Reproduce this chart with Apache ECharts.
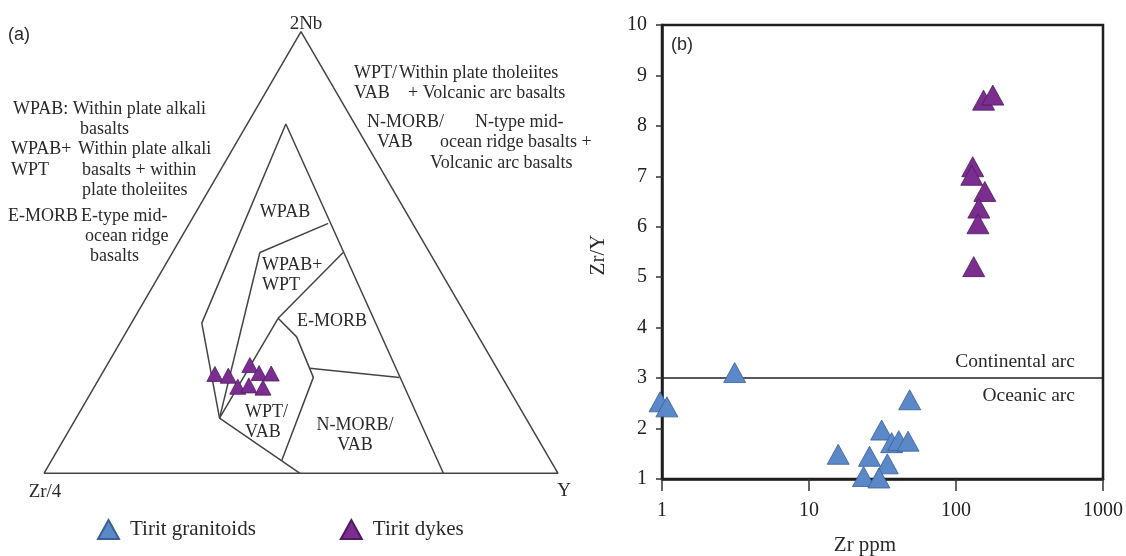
<!DOCTYPE html>
<html>
<head>
<meta charset="utf-8">
<title>Tirit granitoids and dykes</title>
<script src="https://cdn.jsdelivr.net/npm/echarts@6/dist/echarts.min.js"></script>
<style>
    html, body { margin: 0; padding: 0; background: #fff; }
    #main { width: 1126px; height: 556px; }
</style>
</head>
<body>
<div id="main"></div>
<script>
    // (a) Zr/4 - 2Nb - Y ternary, every point is [Zr/4, 2Nb, Y] in %
    var outerTriangle = [[100, 0, 0], [0, 100, 0], [0, 0, 100], [100, 0, 0]];
    var fieldOutline = [[50.2, 0, 49.8], [59.6, 12.5, 27.9], [52.3, 34.0, 13.7], [13.4, 79.1, 7.5], [22.3, 0, 77.7]];
    var wpabBase = [[33.0, 50.0, 17.0], [16.4, 56.6, 27.0]];
    var wpabWptLeft = [[33.0, 50.0, 17.0], [59.6, 12.5, 27.9]];
    var emorbTop = [[16.8, 50.0, 33.2], [36.9, 35.1, 28.0]];
    var wptVabLeft = [[36.9, 35.1, 28.0], [59.6, 12.5, 27.9]];
    var emorbLeft = [[36.9, 35.1, 28.0], [35.4, 30.9, 33.7], [36.7, 21.7, 41.5], [52.3, 2.9, 44.8]];
    var nmorbTop = [[36.4, 23.8, 39.8], [20.0, 21.7, 58.3]];

    var dykeZr4 = [55.5, 53.1, 47.7, 46.8, 44.5, 52.5, 50.2, 47.7];
    var dykeNb2 = [22.5, 22.1, 24.5, 22.7, 22.6, 19.6, 19.9, 19.4];
    var dykeY = [22.0, 24.8, 27.8, 30.5, 32.9, 27.9, 29.9, 32.9];

    // (b) Zr ppm vs Zr/Y
    var graniteZr = [3.12, 0.97, 1.08, 48.4, 31.2, 36.5, 40.8, 47.2, 15.8, 25.8, 34.1, 23.5, 29.9];
    var graniteZrY = [3.11, 2.53, 2.43, 2.57, 1.97, 1.72, 1.76, 1.75, 1.49, 1.45, 1.30, 1.05, 1.02];
    var dykeZr = [154, 178, 130, 128, 157, 143, 141, 132];
    var dykeZrY = [8.51, 8.61, 7.19, 7.02, 6.70, 6.37, 6.06, 5.21];
    var zrRange = [1, 1000];
    var zrYRange = [1, 10];
    var arcBoundary = 3;

    var serif = '"Liberation Serif", "Times New Roman", serif';
    var sans = '"Liberation Sans", Arial, sans-serif';
    var blue = '#5b88c8', blueEdge = '#3b5f96';
    var purple = '#7b2e90', purpleEdge = '#4f1a60';

    // ternary -> x,y in the unit box of grid 0
    function tern(p) {
        var s = p[0] + p[1] + p[2];
        var b = p[1] / s, c = p[2] / s;
        return [c + b / 2, b];
    }

    function txt(str, x, y, size, align, family) {
        return {
            type: 'text', x: x, y: y, silent: true,
            style: {
                text: str, fill: '#2a2a2a',
                font: (size || 18) + 'px ' + (family || serif),
                textAlign: align || 'left', align: align || 'left',
                textVerticalAlign: 'middle', verticalAlign: 'middle'
            }
        };
    }

    var series = [];
    [outerTriangle, fieldOutline, wpabBase, wpabWptLeft, emorbTop, wptVabLeft, emorbLeft, nmorbTop].forEach(function (line) {
        series.push({
            type: 'line', xAxisIndex: 0, yAxisIndex: 0,
            data: line.map(tern), symbol: 'none', silent: true,
            lineStyle: { color: '#444', width: 1.5 }
        });
    });

    series.push({
        name: 'Tirit dykes', type: 'scatter', xAxisIndex: 0, yAxisIndex: 0,
        symbol: 'triangle', symbolSize: [16, 15],
        itemStyle: { color: purple, borderColor: purpleEdge, borderWidth: 0.8, opacity: 1 },
        data: dykeZr4.map(function (v, i) { return tern([v, dykeNb2[i], dykeY[i]]); }),
        z: 5
    });

    series.push({
        name: 'Tirit granitoids', type: 'scatter', xAxisIndex: 1, yAxisIndex: 1,
        symbol: 'triangle', symbolSize: [22, 20], clip: false,
        itemStyle: { color: blue, borderColor: blueEdge, borderWidth: 0.8, opacity: 1 },
        data: graniteZr.map(function (v, i) { return [v, graniteZrY[i]]; }),
        markLine: {
            silent: true, symbol: 'none', animation: false,
            label: { show: false },
            lineStyle: { color: '#222', width: 1.6, type: 'solid' },
            data: [{ yAxis: arcBoundary }]
        },
        z: 5
    });

    series.push({
        name: 'Tirit dykes', type: 'scatter', xAxisIndex: 1, yAxisIndex: 1,
        symbol: 'triangle', symbolSize: [22, 20], clip: false,
        itemStyle: { color: purple, borderColor: purpleEdge, borderWidth: 0.8, opacity: 1 },
        data: dykeZr.map(function (v, i) { return [v, dykeZrY[i]]; }),
        z: 5
    });

    var option = {
        animation: false,
        backgroundColor: '#fff',
        grid: [
            { left: 44, right: 568, top: 31.7, bottom: 82.7 },
            { left: 662, right: 20, top: 25, bottom: 77, show: true, borderColor: '#1e1e1e', borderWidth: 2.5 }
        ],
        xAxis: [
            { gridIndex: 0, type: 'value', min: 0, max: 1, show: false },
            {
                gridIndex: 1, type: 'log', logBase: 10, min: zrRange[0], max: zrRange[1],
                axisLine: { lineStyle: { color: '#1e1e1e', width: 2.5 } },
                axisTick: { length: 12, lineStyle: { color: '#333', width: 1.5 } },
                axisLabel: {
                    margin: 22, color: '#222', fontSize: 20, fontFamily: serif,
                    formatter: function (v) { return String(Math.round(v)); }
                },
                splitLine: { show: false }
            }
        ],
        yAxis: [
            { gridIndex: 0, type: 'value', min: 0, max: 1, show: false },
            {
                gridIndex: 1, type: 'value', min: zrYRange[0], max: zrYRange[1], interval: 1,
                axisLine: { lineStyle: { color: '#1e1e1e', width: 2.5 } },
                axisTick: { length: 6, lineStyle: { color: '#333', width: 1.5 } },
                axisLabel: { margin: 15, color: '#222', fontSize: 20, fontFamily: serif },
                splitLine: { show: false }
            }
        ],
        legend: {
            data: ['Tirit granitoids', 'Tirit dykes'],
            left: 92, top: 514,
            icon: 'triangle', itemWidth: 21, itemHeight: 19, itemGap: 84,
            textStyle: { fontSize: 21, fontFamily: serif, color: '#2a2a2a', padding: [0, 0, 0, 6] }
        },
        graphic: [
            txt('(a)', 8, 35, 18, 'left', sans),
            txt('2Nb', 306, 24, 19, 'center'),
            txt('Zr/4', 45, 492, 19, 'center'),
            txt('Y', 564, 491, 19, 'center'),

            txt('WPAB: Within plate alkali', 13, 109),
            txt('basalts', 80, 129),
            txt('WPAB+', 11, 149),
            txt('Within plate alkali', 78, 149),
            txt('WPT', 11, 170),
            txt('basalts + within', 82, 170),
            txt('plate tholeiites', 82, 190),
            txt('E-MORB', 8, 216),
            txt('E-type mid-', 81, 216),
            txt('ocean ridge', 85, 236),
            txt('basalts', 90, 256),

            txt('WPT/', 354, 73),
            txt('Within plate tholeiites', 399, 73),
            txt('VAB', 354, 93),
            txt('+ Volcanic arc basalts', 408, 93),
            txt('N-MORB/', 367, 122),
            txt('N-type mid-', 475, 122),
            txt('VAB', 377, 142),
            txt('ocean ridge basalts +', 440, 142),
            txt('Volcanic arc basalts', 430, 163),

            txt('WPAB', 285, 212, 18, 'center'),
            txt('WPAB+', 262, 265),
            txt('WPT', 262, 285),
            txt('E-MORB', 332, 321, 18, 'center'),
            txt('WPT/', 245, 412),
            txt('VAB', 245, 432),
            txt('N-MORB/', 355, 425, 18, 'center'),
            txt('VAB', 355, 445, 18, 'center'),

            txt('(b)', 671, 45, 18, 'left', sans),
            txt('Continental arc', 1075, 362, 19.5, 'right'),
            txt('Oceanic arc', 1075, 396, 19.5, 'right'),
            txt('Zr ppm', 865, 545, 21, 'center'),
            {
                type: 'text', x: 598, y: 255, rotation: Math.PI / 2, silent: true,
                style: {
                    text: 'Zr/Y', fill: '#2a2a2a', font: '21px ' + serif,
                    textAlign: 'center', align: 'center', textVerticalAlign: 'middle', verticalAlign: 'middle'
                }
            }
        ],
        series: series
    };

    var myChart = echarts.init(document.getElementById('main'));
    myChart.setOption(option);
</script>
</body>
</html>
